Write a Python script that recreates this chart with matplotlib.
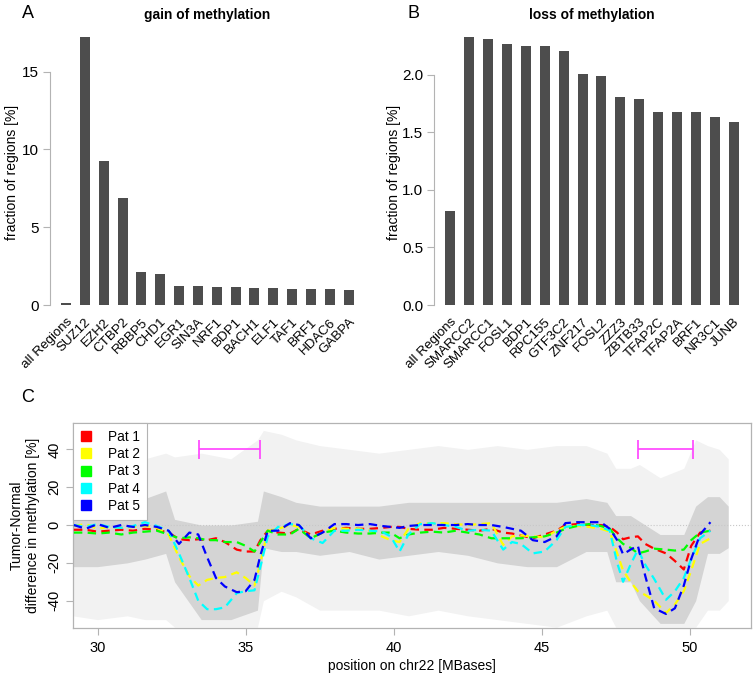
import matplotlib
matplotlib.use("Agg")
import matplotlib.pyplot as plt
from matplotlib.lines import Line2D
import numpy as np

plt.rcParams['font.family'] = ['Liberation Sans', 'DejaVu Sans']

# ---------------- data ----------------
gain_labels = ["all Regions", "SUZ12", "EZH2", "CTBP2", "RBBP5", "CHD1", "EGR1", "SIN3A",
               "NRF1", "BDP1", "BACH1", "ELF1", "TAF1", "BRF1", "HDAC6", "GABPA"]
gain_values = [0.1, 17.25, 9.25, 6.88, 2.12, 1.97, 1.22, 1.22, 1.18, 1.16, 1.10, 1.07, 1.05, 1.04, 1.00, 0.98]

loss_labels = ["all Regions", "SMARCC2", "SMARCC1", "FOSL1", "BDP1", "RPC155", "GTF3C2", "ZNF217",
               "FOSL2", "ZZZ3", "ZBTB33", "TFAP2C", "TFAP2A", "BRF1", "NR3C1", "JUNB"]
loss_values = [0.817, 2.333, 2.313, 2.273, 2.25, 2.25, 2.21, 2.01, 1.99, 1.81, 1.79, 1.68, 1.68, 1.675, 1.635, 1.59]

pos = [29.2, 29.6, 30.0, 30.4, 30.8, 31.2, 31.6, 32.0, 32.4, 32.75, 33.1, 33.4, 33.7, 34.0, 34.3,
       34.7, 35.0, 35.3, 35.5, 35.75, 36.1, 36.5, 36.8, 37.2, 37.6, 38.0, 38.4, 38.8, 39.2, 39.6,
       39.9, 40.2, 40.5, 40.9, 41.3, 41.7, 42.1, 42.5, 42.9, 43.3, 43.7, 44.0, 44.3, 44.7, 45.1,
       45.5, 45.8, 46.2, 46.6, 47.0, 47.3, 47.55, 47.75, 48.0, 48.25, 48.5, 48.8, 49.2, 49.5, 49.8,
       50.05, 50.35, 50.7]

pat1 = [-2.5, -2.5, -3.5, -3, -2.5, -3, -2, -2.5, -4, -7.5, -8, -7.5, -8, -7, -9,
        -13, -14, -14, -8, -3, -4, -4.5, -2, -5, -3, -2, -1.5, -2, -2, -1.5,
        -1, -1, -2, -2.5, -2.5, -1.5, -2, -2.5, -3, -2, -4, -4.5, -5.5, -7, -5,
        -3, 0, 0.5, 0, 0, -1, -4, -7.5, -6.5, -6, -10, -12.5, -15, -19, -23.5,
        -11, -4, -3]
pat2 = [-0.5, 0.5, -2, -1, -1.5, -1, -0.5, -1.5, -5, -17, -27, -32, -29, -28, -27.5,
        -25, -28, -32, -20, -3, -2, 0, -1, -7, -4, -1.5, -2, -2, -3, -6,
        -8, -9, -2, 1, 1, 1, 0.5, 0, 0.5, 1, -10.5, -6, -5.5, -6, -6.5,
        -3, -1, -0.5, -1, -2, -3.5, -15, -24, -30, -35, -37, -40, -46.5, -42, -35,
        -24, -10, -7]
pat3 = [-4, -4, -4.5, -4, -5, -4, -3.5, -3, -5, -7, -6.5, -7, -8, -8, -9,
        -9, -11, -14, -9, -3, -5, -5, -2, -7, -4, -3, -4, -4.5, -4.5, -4,
        -4, -7, -5, -4, -3.5, -4, -3, -4, -5, -7, -7, -7, -7, -6.5, -6,
        -4, -2, -0.5, 0.5, -0.5, -2, -7, -10, -12, -15, -14, -12.5, -13, -13.5, -13,
        -8, -4, -3]
pat4 = [0, -1, 0.5, -1, -1.5, -0.5, 1.5, -0.5, -3, -15, -28, -40, -44.5, -44.5, -43.5,
        -36, -35, -34.5, -22, -6, -1, 0.5, 0, -7, -9.5, -3, -3, -2.5, -3, -3.5,
        -6, -14, -5, 0.5, 1, 0, -1, -3, -2.5, -3, -13, -9, -10, -15, -14,
        -8, -1, 0, 0, -1, -3, -20, -30, -21, -13, -21, -28.5, -39.5, -35, -28,
        -18, -7, -3]
pat5 = [0, -2, 0.5, -1.5, 0, -1, 0, -1, -3, -10, -4, -5, -17, -28, -32.5,
        -35.5, -35, -29, -16, -3, -3, 1, 0, -7, -4, 0.5, 0.5, 0, 0.5, -0.5,
        -1, -1.5, -0.5, 0, 0, 0, 0, 0.5, 0, 0, -1, -2, -3, -8, -9,
        -6, 1, 1.5, 1.5, 1.5, -2, -8, -15.5, -13, -11, -27, -44, -47, -44, -32,
        -18, -5, 1.5]
patients = ["Pat 1", "Pat 2", "Pat 3", "Pat 4", "Pat 5"]
pat_colors = ["#ff0000", "#ffff00", "#00ff00", "#00ffff", "#0000ff"]

# point cloud (individual CpGs) summarised as envelopes
cloud_x = [29.16, 30.0, 31.0, 31.6, 32.3, 32.6, 33.5, 34.5, 35.4, 35.6, 36.2, 36.7, 37.5, 38.5,
           39.5, 40.5, 41.5, 42.5, 43.5, 44.5, 45.5, 46.5, 47.2, 47.5, 48.0, 48.3, 49.0,
           49.8, 50.2, 50.6, 51.0, 51.3]
cloud_outer_hi = [30, 32, 30, 35, 38, 36, 38, 35, 45, 50, 48, 45, 42, 40,
                  38, 40, 42, 40, 42, 40, 42, 42, 38, 30, 30, 32, 25,
                  30, 45, 42, 40, 35]
cloud_outer_lo = [-48, -50, -48, -50, -50, -54, -54, -54, -54, -40, -35, -38, -45, -45,
                  -45, -48, -45, -48, -50, -52, -54, -48, -45, -54, -54, -54, -54,
                  -54, -54, -45, -45, -40]
cloud_inner_hi = [4, 5, 6, 14, 18, 3, 0, 0, 2, 18, 15, 12, 10, 10,
                  10, 12, 12, 12, 12, 12, 12, 14, 12, 5, 5, 2, -5,
                  -5, 10, 15, 15, 10]
cloud_inner_lo = [-22, -22, -20, -18, -15, -30, -50, -50, -45, -12, -14, -14, -16, -14,
                  -18, -16, -14, -16, -20, -22, -22, -14, -14, -30, -30, -40, -52,
                  -52, -40, -15, -15, -12]

dmr_start = [33.43, 48.26]
dmr_end = [35.48, 50.12]
dmr_level = [40, 40]

# ---------------- figure ----------------
W, H = 755, 678
fig = plt.figure(figsize=(W / 100, H / 100), dpi=100)

def fig_axes(x0, y0, x1, y1):
    # pixel box (top-left origin) -> axes
    return fig.add_axes([x0 / W, 1 - y1 / H, (x1 - x0) / W, (y1 - y0) / H])

bar_color = "#4d4d4d"
axis_gray = "#b3b3b3"
fs = 9.6

def bar_panel(ax, labels, values, ylim, yticks, yfmt):
    idx = np.arange(len(labels))
    ax.bar(idx, values, width=0.53, color=bar_color)
    ax.set_ylim(*ylim)
    ax.set_xlim(-0.85, len(labels) - 1 + 0.6)
    for s in ["top", "right", "bottom"]:
        ax.spines[s].set_visible(False)
    ax.spines["left"].set_color(axis_gray)
    ax.spines["left"].set_bounds(yticks[0], yticks[-1])
    ax.spines["left"].set_linewidth(0.8)
    ax.set_yticks(yticks)
    ax.set_yticklabels([yfmt.format(t) for t in yticks], fontsize=11)
    ax.tick_params(axis="y", color=axis_gray, length=5, width=0.8, pad=3)
    ax.set_xticks(idx)
    ax.set_xticklabels(labels, rotation=45, ha="right", rotation_mode="anchor", fontsize=fs)
    ax.tick_params(axis="x", length=0, pad=8)

# Panel A
axA = fig_axes(50, 30, 360, 305)
bar_panel(axA, gain_labels, gain_values, (0, 17.68), [0, 5, 10, 15], "{:d}")
fig.text(207 / W, 1 - 15 / H, "gain of methylation", ha="center", va="center",
         fontsize=9.9, fontweight="bold")
fig.text(28 / W, 1 - 13 / H, "A", ha="center", va="center", fontsize=13)
fig.text(12 / W, 1 - 172 / H, "fraction of regions [%]", rotation=90,
         ha="center", va="center", fontsize=10)

# Panel B
axB = fig_axes(434.3, 30, 745, 305)
bar_panel(axB, loss_labels, loss_values, (0, 2.391), [0.0, 0.5, 1.0, 1.5, 2.0], "{:.1f}")
fig.text(592 / W, 1 - 15 / H, "loss of methylation", ha="center", va="center",
         fontsize=9.9, fontweight="bold")
fig.text(413 / W, 1 - 13 / H, "B", ha="center", va="center", fontsize=13)
fig.text(394 / W, 1 - 172 / H, "fraction of regions [%]", rotation=90,
         ha="center", va="center", fontsize=10)

# Panel C
axC = fig_axes(72.7, 422.7, 750.7, 628.3)
axC.set_xlim(29.16, 52.06)
axC.set_ylim(-54.6, 54.1)
axC.fill_between(cloud_x, cloud_outer_lo, cloud_outer_hi, color="#f2f2f2", lw=0, zorder=1)
axC.fill_between(cloud_x, cloud_inner_lo, cloud_inner_hi, color="#d4d4d4", lw=0, zorder=1.1)
axC.axhline(0, color="#c8c8c8", ls=":", lw=0.8, zorder=1.2)
for s in axC.spines.values():
    s.set_color(axis_gray)
    s.set_linewidth(0.9)
for vals, col in zip([pat1, pat2, pat3, pat4, pat5], pat_colors):
    axC.plot(pos, vals, color=col, lw=1.6, dashes=(3.8, 2.4), zorder=3)
for a, b, lev in zip(dmr_start, dmr_end, dmr_level):
    axC.hlines(lev, a, b, color="#ff40ff", lw=1.2, zorder=4)
    axC.vlines([a, b], lev - 5.2, lev + 5.2, color="#ff40ff", lw=1.2, zorder=4)
axC.set_xticks([30, 35, 40, 45, 50])
axC.set_xticklabels(["30", "35", "40", "45", "50"], fontsize=10.5)
axC.set_yticks([-40, -20, 0, 20, 40])
axC.set_yticklabels(["-40", "-20", "0", "20", "40"], fontsize=10.5, rotation=90, va="center")
axC.tick_params(color=axis_gray, length=5, width=0.8)
axC.tick_params(axis="x", pad=4)
axC.tick_params(axis="y", pad=3)
fig.text(411.7 / W, 1 - 666 / H, "position on chr22 [MBases]", ha="center", va="center", fontsize=10)
fig.text(17 / W, 1 - 525 / H, "Tumor-Normal", rotation=90, ha="center", va="center", fontsize=10)
fig.text(33 / W, 1 - 525 / H, "difference in methylation [%]", rotation=90,
         ha="center", va="center", fontsize=10)
fig.text(28 / W, 1 - 398 / H, "C", ha="center", va="center", fontsize=13)

handles = [Line2D([], [], ls="none", marker="s", markersize=7.5, markerfacecolor=c,
                  markeredgecolor=c) for c in pat_colors]
leg = axC.legend(handles, patients, loc="upper left", bbox_to_anchor=(0, 1),
                 borderaxespad=0, fontsize=9.8, frameon=True, fancybox=False,
                 handlelength=1.0, handletextpad=1.1, labelspacing=0.25,
                 borderpad=0.5, framealpha=1)
leg.get_frame().set_edgecolor(axis_gray)
leg.get_frame().set_linewidth(0.8)
leg.set_zorder(5)

fig.savefig("out.png", dpi=100)
